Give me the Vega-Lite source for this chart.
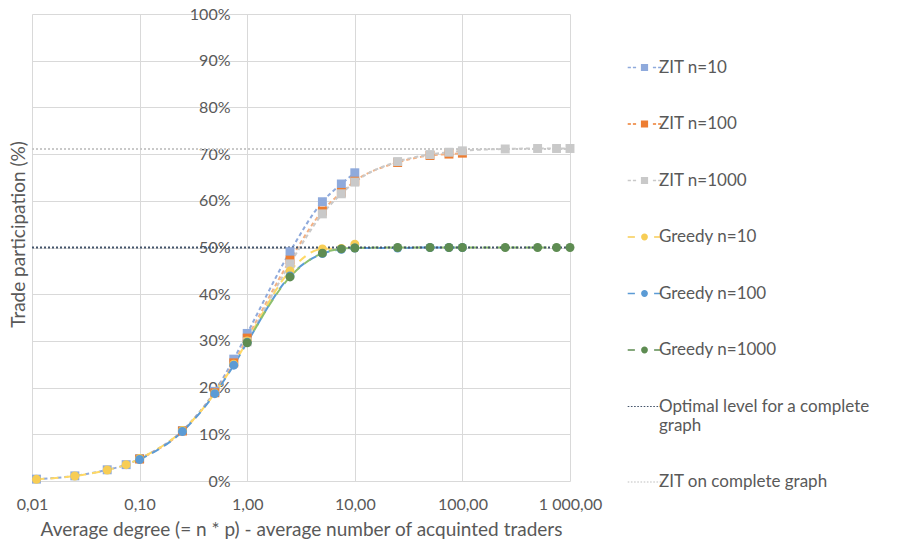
{
  "$schema": "https://vega.github.io/schema/vega-lite/v6.json",
  "autosize": "none",
  "width": 538,
  "height": 467,
  "padding": {"left": 32, "top": 14, "right": 327, "bottom": 60},
  "background": "white",
  "config": {
    "locale": {"number": {"decimal": ",", "thousands": " ", "grouping": [3], "currency": ["", ""]}},
    "view": {"stroke": null},
    "font": "Lato",
    "axis": {"labelColor": "#595959", "titleColor": "#595959", "labelFont": "Lato", "titleFont": "Lato", "titleFontWeight": "normal", "gridColor": "#D9D9D9", "gridWidth": 1, "domain": false, "ticks": false},
    "legend": {"labelFont": "Lato", "labelColor": "#595959"}
  },
  "data": {"values": [
    {"s": "ZIT n=10", "x": 0.011, "y": 0.004}, {"s": "ZIT n=10", "x": 0.025, "y": 0.011}, {"s": "ZIT n=10", "x": 0.05, "y": 0.024}, {"s": "ZIT n=10", "x": 0.075, "y": 0.035}, {"s": "ZIT n=10", "x": 0.1, "y": 0.048}, {"s": "ZIT n=10", "x": 0.25, "y": 0.108}, {"s": "ZIT n=10", "x": 0.5, "y": 0.192}, {"s": "ZIT n=10", "x": 0.75, "y": 0.261}, {"s": "ZIT n=10", "x": 1, "y": 0.316}, {"s": "ZIT n=10", "x": 2.5, "y": 0.491}, {"s": "ZIT n=10", "x": 5, "y": 0.598}, {"s": "ZIT n=10", "x": 7.5, "y": 0.636}, {"s": "ZIT n=10", "x": 10, "y": 0.66},
    {"s": "ZIT n=100", "x": 0.1, "y": 0.047}, {"s": "ZIT n=100", "x": 0.25, "y": 0.107}, {"s": "ZIT n=100", "x": 0.5, "y": 0.189}, {"s": "ZIT n=100", "x": 0.75, "y": 0.253}, {"s": "ZIT n=100", "x": 1, "y": 0.306}, {"s": "ZIT n=100", "x": 2.5, "y": 0.473}, {"s": "ZIT n=100", "x": 5, "y": 0.578}, {"s": "ZIT n=100", "x": 7.5, "y": 0.618}, {"s": "ZIT n=100", "x": 10, "y": 0.642}, {"s": "ZIT n=100", "x": 25, "y": 0.682}, {"s": "ZIT n=100", "x": 50, "y": 0.697}, {"s": "ZIT n=100", "x": 75, "y": 0.7}, {"s": "ZIT n=100", "x": 100, "y": 0.702},
    {"s": "ZIT n=1000", "x": 1, "y": 0.298}, {"s": "ZIT n=1000", "x": 2.5, "y": 0.465}, {"s": "ZIT n=1000", "x": 5, "y": 0.572}, {"s": "ZIT n=1000", "x": 7.5, "y": 0.615}, {"s": "ZIT n=1000", "x": 10, "y": 0.64}, {"s": "ZIT n=1000", "x": 25, "y": 0.684}, {"s": "ZIT n=1000", "x": 50, "y": 0.699}, {"s": "ZIT n=1000", "x": 75, "y": 0.704}, {"s": "ZIT n=1000", "x": 100, "y": 0.707}, {"s": "ZIT n=1000", "x": 250, "y": 0.711}, {"s": "ZIT n=1000", "x": 500, "y": 0.712}, {"s": "ZIT n=1000", "x": 750, "y": 0.712}, {"s": "ZIT n=1000", "x": 1000, "y": 0.712},
    {"s": "Greedy n=10", "x": 0.011, "y": 0.0036}, {"s": "Greedy n=10", "x": 0.025, "y": 0.0107}, {"s": "Greedy n=10", "x": 0.05, "y": 0.0236}, {"s": "Greedy n=10", "x": 0.075, "y": 0.035}, {"s": "Greedy n=10", "x": 0.1, "y": 0.048}, {"s": "Greedy n=10", "x": 0.25, "y": 0.108}, {"s": "Greedy n=10", "x": 0.5, "y": 0.188}, {"s": "Greedy n=10", "x": 0.75, "y": 0.25}, {"s": "Greedy n=10", "x": 1, "y": 0.3}, {"s": "Greedy n=10", "x": 2.5, "y": 0.45}, {"s": "Greedy n=10", "x": 5, "y": 0.497}, {"s": "Greedy n=10", "x": 7.5, "y": 0.498}, {"s": "Greedy n=10", "x": 10, "y": 0.507},
    {"s": "Greedy n=100", "x": 0.1, "y": 0.046}, {"s": "Greedy n=100", "x": 0.25, "y": 0.106}, {"s": "Greedy n=100", "x": 0.5, "y": 0.187}, {"s": "Greedy n=100", "x": 0.75, "y": 0.248}, {"s": "Greedy n=100", "x": 1, "y": 0.297}, {"s": "Greedy n=100", "x": 2.5, "y": 0.439}, {"s": "Greedy n=100", "x": 5, "y": 0.487}, {"s": "Greedy n=100", "x": 7.5, "y": 0.496}, {"s": "Greedy n=100", "x": 10, "y": 0.499}, {"s": "Greedy n=100", "x": 25, "y": 0.499}, {"s": "Greedy n=100", "x": 50, "y": 0.5}, {"s": "Greedy n=100", "x": 75, "y": 0.5}, {"s": "Greedy n=100", "x": 100, "y": 0.5},
    {"s": "Greedy n=1000", "x": 1, "y": 0.296}, {"s": "Greedy n=1000", "x": 2.5, "y": 0.437}, {"s": "Greedy n=1000", "x": 5, "y": 0.488}, {"s": "Greedy n=1000", "x": 7.5, "y": 0.497}, {"s": "Greedy n=1000", "x": 10, "y": 0.499}, {"s": "Greedy n=1000", "x": 25, "y": 0.5}, {"s": "Greedy n=1000", "x": 50, "y": 0.5}, {"s": "Greedy n=1000", "x": 75, "y": 0.5}, {"s": "Greedy n=1000", "x": 100, "y": 0.5}, {"s": "Greedy n=1000", "x": 250, "y": 0.5}, {"s": "Greedy n=1000", "x": 500, "y": 0.5}, {"s": "Greedy n=1000", "x": 750, "y": 0.5}, {"s": "Greedy n=1000", "x": 1000, "y": 0.5},
    {"s": "Optimal level for a complete graph", "x": 0.01, "y": 0.5}, {"s": "Optimal level for a complete graph", "x": 1000, "y": 0.5},
    {"s": "ZIT on complete graph", "x": 0.01, "y": 0.711}, {"s": "ZIT on complete graph", "x": 1000, "y": 0.711}
  ]},
  "encoding": {
    "x": {"field": "x", "type": "quantitative",
      "scale": {"type": "log", "domain": [0.01, 1000], "nice": false},
      "axis": {"values": [0.01, 0.1, 1, 10, 100, 1000], "format": ",.2f", "grid": true, "labelFlush": false, "labelAlign": "center", "labelFontSize": 16, "labelPadding": 15, "title": "Average degree (= n * p) - average number of acquinted traders", "titleFontSize": 19, "titlePadding": 8}},
    "y": {"field": "y", "type": "quantitative",
      "scale": {"domain": [0, 1], "nice": false},
      "axis": {"values": [0, 0.1, 0.2, 0.3, 0.4, 0.5, 0.6, 0.7, 0.8, 0.9, 1], "format": ".0%", "grid": true, "offset": -215, "labelFontSize": 16, "labelPadding": 17, "title": "Trade participation (%)", "titleFontSize": 19, "titleX": -229, "titleY": 220, "titleAngle": -90, "titleBaseline": "middle", "titleAlign": "center"}}
  },
  "layer": [
    {
      "mark": {"type": "line", "interpolate": "monotone", "strokeWidth": 2},
      "encoding": {
        "stroke": {"field": "s", "type": "nominal", "legend": null,
          "scale": {"domain": ["ZIT on complete graph", "Optimal level for a complete graph", "Greedy n=1000", "Greedy n=100", "Greedy n=10", "ZIT n=1000", "ZIT n=100", "ZIT n=10"],
            "range": ["#C9C9C9", "#44546A", "#8CBF6E", "#5B9BD5", "#FFD966", "#C9C9C9", "#F4B183", "#8FAADC"]}},
        "strokeDash": {"field": "s", "type": "nominal", "legend": null,
          "scale": {"domain": ["ZIT on complete graph", "Optimal level for a complete graph", "Greedy n=1000", "Greedy n=100", "Greedy n=10", "ZIT n=1000", "ZIT n=100", "ZIT n=10"],
            "range": [[2, 2], [2, 2], [8, 6], [8, 6], [8, 6], [4, 3], [4, 3], [4, 3]]}}
      }
    },
    {
      "transform": [{"filter": "indexof(datum.s, 'ZIT n=') == 0"}],
      "mark": {"type": "point", "shape": "square", "filled": true, "opacity": 1, "size": 80},
      "encoding": {
        "color": {"field": "s", "type": "nominal"}
      }
    },
    {
      "transform": [{"filter": "indexof(datum.s, 'Greedy') == 0"}],
      "mark": {"type": "point", "shape": "circle", "filled": true, "opacity": 1, "size": 80},
      "encoding": {
        "color": {"field": "s", "type": "nominal"}
      }
    },
    {
      "transform": [{"filter": "indexof(datum.s, 'Greedy') == 0"}],
      "mark": {"type": "point", "filled": true, "opacity": 0, "size": 64},
      "encoding": {
        "color": {"field": "s", "type": "nominal",
          "scale": {"domain": ["ZIT n=10", "ZIT n=100", "ZIT n=1000", "Greedy n=10", "Greedy n=100", "Greedy n=1000", "Optimal level for a complete graph", "ZIT on complete graph"],
            "range": ["#8FAADC", "#ED7D31", "#C9C9C9", "#F7CD55", "#5B9BD5", "#5E8C52", "#44546A", "#BFBFBF"]},
          "legend": {
            "title": null, "orient": "none", "legendX": 595, "legendY": 45, "padding": 0,
            "symbolSize": 64, "symbolOffset": 9, "labelOffset": 6, "rowPadding": 38.5, "labelFontSize": 17, "labelLimit": 400, "symbolOpacity": 1, "symbolStrokeWidth": 0,
            "labelExpr": "datum.label == 'Optimal level for a complete graph' ? ['Optimal level for a complete', 'graph'] : datum.label"
          }},
        "shape": {"field": "s", "type": "nominal",
          "scale": {"domain": ["ZIT n=10", "ZIT n=100", "ZIT n=1000", "Greedy n=10", "Greedy n=100", "Greedy n=1000", "Optimal level for a complete graph", "ZIT on complete graph"],
            "range": [
              "M-4.2,-0.2h0.8v0.4h-0.8zM-2.9,-0.2h0.8v0.4h-0.8zM-0.9,-0.9h1.8v1.8h-1.8zM2.1,-0.2h0.8v0.4h-0.8zM3.4,-0.2h0.8v0.4h-0.8z",
              "M-4.2,-0.2h0.8v0.4h-0.8zM-2.9,-0.2h0.8v0.4h-0.8zM-0.9,-0.9h1.8v1.8h-1.8zM2.1,-0.2h0.8v0.4h-0.8zM3.4,-0.2h0.8v0.4h-0.8z",
              "M-4.2,-0.2h0.8v0.4h-0.8zM-2.9,-0.2h0.8v0.4h-0.8zM-0.9,-0.9h1.8v1.8h-1.8zM2.1,-0.2h0.8v0.4h-0.8zM3.4,-0.2h0.8v0.4h-0.8z",
              "M-4.2,-0.2h1.8v0.4h-1.8zM-0.85,0a0.85,0.85 0 1,0 1.7,0a0.85,0.85 0 1,0 -1.7,0zM2.4,-0.2h1.8v0.4h-1.8z",
              "M-4.2,-0.2h1.8v0.4h-1.8zM-0.85,0a0.85,0.85 0 1,0 1.7,0a0.85,0.85 0 1,0 -1.7,0zM2.4,-0.2h1.8v0.4h-1.8z",
              "M-4.2,-0.2h1.8v0.4h-1.8zM-0.85,0a0.85,0.85 0 1,0 1.7,0a0.85,0.85 0 1,0 -1.7,0zM2.4,-0.2h1.8v0.4h-1.8z",
              "M-4.2,-0.15h0.4v0.3h-0.4zM-3.4,-0.15h0.4v0.3h-0.4zM-2.6,-0.15h0.4v0.3h-0.4zM-1.8,-0.15h0.4v0.3h-0.4zM-1,-0.15h0.4v0.3h-0.4zM-0.2,-0.15h0.4v0.3h-0.4zM0.6,-0.15h0.4v0.3h-0.4zM1.4,-0.15h0.4v0.3h-0.4zM2.2,-0.15h0.4v0.3h-0.4zM3,-0.15h0.4v0.3h-0.4zM3.8,-0.15h0.4v0.3h-0.4z",
              "M-4.2,-0.15h0.4v0.3h-0.4zM-3.4,-0.15h0.4v0.3h-0.4zM-2.6,-0.15h0.4v0.3h-0.4zM-1.8,-0.15h0.4v0.3h-0.4zM-1,-0.15h0.4v0.3h-0.4zM-0.2,-0.15h0.4v0.3h-0.4zM0.6,-0.15h0.4v0.3h-0.4zM1.4,-0.15h0.4v0.3h-0.4zM2.2,-0.15h0.4v0.3h-0.4zM3,-0.15h0.4v0.3h-0.4zM3.8,-0.15h0.4v0.3h-0.4z"
            ]}}
      }
    }
  ]
}
